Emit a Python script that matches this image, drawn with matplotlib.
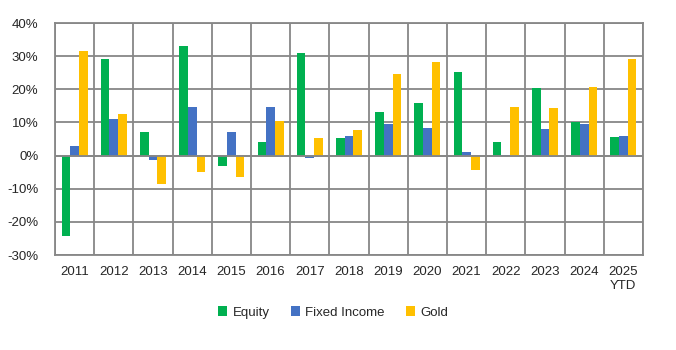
import numpy as np
import matplotlib
matplotlib.use('Agg')
import matplotlib.pyplot as plt
from matplotlib.ticker import FuncFormatter

# 데이터
years = ['2011', '2012', '2013', '2014', '2015', '2016', '2017', '2018',
         '2019', '2020', '2021', '2022', '2023', '2024', '2025\nYTD']
equity = [-24.3, 29.2, 7.2, 33.2, -3.0, 4.2, 30.8, 5.4,
          13.0, 16.0, 25.3, 4.2, 20.5, 10.0, 5.7]
fixed_income = [3.0, 10.9, -1.2, 14.8, 7.2, 14.8, -0.6, 6.0,
                9.6, 8.4, 1.2, 0.3, 8.1, 9.6, 6.0]
gold = [31.7, 12.4, -8.6, -5.0, -6.5, 10.3, 5.4, 7.8,
        24.7, 28.3, -4.4, 14.8, 14.5, 20.8, 29.2]

plt.rcParams['font.family'] = ['Liberation Sans Narrow', 'Liberation Sans', 'DejaVu Sans']

fig = plt.figure(figsize=(6.76, 3.5), dpi=100)
ax = fig.add_axes([55/676, 1 - 255/350, 588/676, 232/350])

x = np.arange(len(years))
w = 0.22
ax.bar(x - w, equity, w, color='#00B050', label='Equity', zorder=3)
ax.bar(x, fixed_income, w, color='#4472C4', label='Fixed Income', zorder=3)
ax.bar(x + w, gold, w, color='#FFC000', label='Gold', zorder=3)

ax.set_xlim(-0.5, len(years) - 0.5)
ax.set_ylim(-30, 40)
ax.set_yticks(range(-30, 41, 10))
ax.yaxis.set_major_formatter(FuncFormatter(lambda v, p: f'{v:.0f}%'))
ax.set_xticks(x)
ax.set_xticklabels(years)
ax.set_xticks(np.arange(-0.5, len(years), 1), minor=True)

gc = '#878787'
ax.grid(axis='y', color=gc, linewidth=1.3, zorder=0)
ax.grid(axis='x', which='minor', color=gc, linewidth=1.3, zorder=0)
ax.tick_params(axis='x', which='both', length=0, labelsize=9.5, pad=8, colors='#262626')
ax.tick_params(axis='y', length=0, labelsize=9.5, pad=12, colors='#262626')
for s in ax.spines.values():
    s.set_color(gc)
    s.set_linewidth(1.3)
ax.axhline(0, color=gc, linewidth=1.3, zorder=4)

ax.legend(loc='upper center', bbox_to_anchor=(0.473, -0.17), ncol=3, frameon=False,
          fontsize=9.5, handlelength=0.7, handleheight=0.7, columnspacing=1.6,
          handletextpad=0.4, labelcolor='#262626')

fig.savefig('out.png', dpi=100)
